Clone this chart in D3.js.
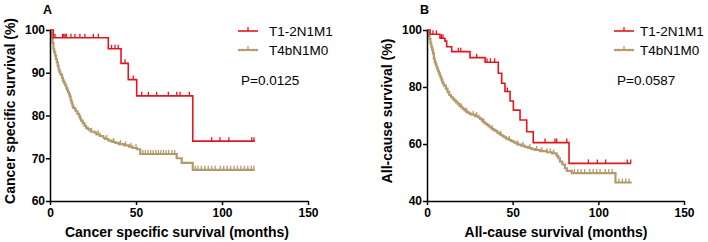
<!DOCTYPE html>
<html>
<head>
<meta charset="utf-8">
<script src="https://cdn.jsdelivr.net/npm/d3@7"></script>
<style>
	body { margin: 0; background: #fff; }
	svg { display: block; }
	.axis path, .axis line { stroke: #000; stroke-width: 1.5; }
	.axis text { font-family: "Liberation Sans", Arial, sans-serif; font-weight: bold; font-size: 12px; fill: #000; }
	.axisTitle { font-family: "Liberation Sans", Arial, sans-serif; font-weight: bold; font-size: 14px; fill: #000; }
	.panelLetter { font-family: "Liberation Sans", Arial, sans-serif; font-weight: bold; font-size: 12.5px; fill: #000; }
	.legendText { font-family: "Liberation Sans", Arial, sans-serif; font-size: 13.5px; fill: #000; }
</style>
</head>
<body>
<div id="chart"></div>
<script>
//Global variables
var width = 708;
var height = 242;
var redColor = "#e3161d";
var tanColor = "#b39b6b";

var seriesNames = ["T1-2N1M1", "T4bN1M0"];
var xTicks = [0, 50, 100, 150];
var yTicksA = [60, 70, 80, 90, 100];
var yTicksB = [40, 60, 80, 100];

//Panel A: cancer specific survival, [month, survival %] after each step
var redA = [[0,100],[1.9,98.2],[33.9,95.6],[41.3,92.2],[45.5,88.4],[50.4,84.6],[83.0,74.0],[119,74.0]];
var redCensorA = [2.9,7.3,8,8.7,9.5,12.2,14.5,17.4,20.3,25.2,28.1,35.8,37.8,39.7,43.6,48.4,53.3,57.2,62.0,68.8,73.7,75.6,81.0,94,98.8,104,117.3,118.6];
var tanA = [[0,100],[0.5,99.2],[1,98.2],[1.5,97],[2,95.5],[2.5,94.8],[3,94],[3.5,93.2],[4,92.5],[4.5,91.6],[5,90.8],[5.5,90.2],
	[6,89.6],[7,88.8],[7.5,88.2],[8,87.8],[8.5,87.4],[9,87],[9.5,86.4],[10,86],[10.5,85.5],[11,85],[11.5,84.4],[12,83.6],
	[12.5,83],[13,82.3],[13.5,81.8],[14.5,81.4],[15,81],[16,80.4],[17,79.8],[17.5,79.3],[18,78.8],[19,78.2],[20,77.6],
	[21,77.1],[22,76.8],[23,76.5],[24,76.2],[26,76.0],[27,75.6],[29,75.2],[31,74.8],[32,74.5],[34,74.1],[36,73.8],
	[38,73.6],[40,73.3],[43,73.0],[46,72.7],[48,72.4],[50.5,72.1],[52.5,71.0],[73.7,70.0],[76.6,68.9],[83,67.3],[119,67.3]];
var tanCensorA = [24,28,33,37,41,44,47,50,54,55.5,57,58.5,60,61.5,63,64.5,66,67.5,69,71,72.5,
	84.5,86,88,90,92,94,96,99,101,103,105,107,109,111,113,115,117,118.5];

//Panel B: all-cause survival
var redB = [[0,100],[1.8,98.5],[7.6,97.1],[10.5,96.1],[11.5,94.1],[14.4,92.4],[25.1,90.3],[33.9,88.7],[41.6,84.8],
	[43.6,81.3],[45.5,78.4],[48.5,75.1],[50.4,71.9],[54.3,68.4],[58.2,64.3],[62.0,60.5],[82.9,53.2],[119,53.2]];
var redCensorB = [3.5,5.5,8.5,9.3,18.3,19.7,29,35,37,39.5,46.9,68.9,74.7,75.7,81.6,94.2,99.4,104.3,116.9,118.9];
var tanB = [[0,100],[0.5,99],[1,98],[1.5,96.8],[2,95.3],[2.5,94.2],[3,93],[3.5,91.8],[4,90],[4.5,88.8],[5,88],[5.5,87.2],
	[6,86.3],[6.5,85.6],[7,84.8],[7.5,84],[8,83.2],[8.5,82.4],[9,81.6],[9.5,81],[10,80.5],[11,79.4],[12,78.2],[13,77.2],
	[14,76.5],[15,75.8],[16,75.2],[17,74.6],[18,74.0],[19,73.4],[20,72.8],[21,72.3],[22,71.8],[23,71.3],[24,70.9],
	[25,70.6],[26,70.3],[28,69.8],[30,69.3],[31,68.8],[32,68.2],[33,67.6],[34,67.1],[35,66.7],[36,66.2],[37,65.7],
	[38,65.2],[39,64.9],[40,64.5],[41,64.0],[42,63.6],[43,63.2],[44,62.8],[45,62.4],[46,62.0],[47,61.7],[48,61.4],
	[49,61.1],[50,60.8],[51,60.5],[52,60.2],[53,59.8],[55,59.4],[57,59.0],[59,58.6],[61,58.2],[63,57.9],[66,57.5],
	[70,57.1],[73,56.7],[75.7,55.8],[76.6,55.0],[77.6,53.8],[79,52.8],[80.5,51.5],[81.6,50.6],[84.5,49.8],[110,46.5],[119.5,46.5]];
var tanCensorB = [20,23,27,29,33,38,43,48,53,56,60,64,67,70,72,74,86,88,90,92,95,97,99,101,104,106,108,112,114,116,118];

//Survival value at time t for a step series
function survivalAt(series, t) {
	var s = series[0][1];
	for (var i = 0; i < series.length; i++) {
		if (series[i][0] <= t) s = series[i][1];
	}
	return s;
}

function drawPanel(svg, p) {
	var xScale = d3.scaleLinear()
	.domain([0, 150])
	.range([p.left, p.right]);

	var yScale = d3.scaleLinear()
	.domain(p.yDomain)
	.range([201, 30]);

	var line = d3.line()
	.x(function(d) { return xScale(d[0]); })
	.y(function(d) { return yScale(d[1]); })
	.curve(d3.curveStepAfter);

	var curves = [
		{data: p.tan, censor: p.tanCensor, color: tanColor, w: 2.2},
		{data: p.red, censor: p.redCensor, color: redColor, w: 1.6}
	];

	curves.forEach(function(c) {
		svg.append("path")
		.datum(c.data)
		.attr("d", line)
		.attr("fill", "none")
		.attr("stroke", c.color)
		.attr("stroke-width", c.w);

		//censor ticks
		svg.append("g").selectAll("line")
		.data(c.censor)
		.enter()
		.append("line")
		.attr("x1", function(d) { return xScale(d); })
		.attr("x2", function(d) { return xScale(d); })
		.attr("y1", function(d) { return yScale(survivalAt(c.data, d)); })
		.attr("y2", function(d) { return yScale(survivalAt(c.data, d)) - 4; })
		.attr("stroke", c.color)
		.attr("stroke-width", 1.3);
	});

	//Add X axis
	svg.append("g")
	.classed("axis", true)
	.attr("transform", "translate(0,201)")
	.call(d3.axisBottom(xScale).tickValues(xTicks).tickSize(4).tickSizeOuter(0).tickPadding(3));

	//Add Y axis
	svg.append("g")
	.classed("axis", true)
	.attr("transform", "translate(" + p.left + ",0)")
	.call(d3.axisLeft(yScale).tickValues(p.yTicks).tickSize(4).tickSizeOuter(0).tickPadding(1));

	//Axis titles
	svg.append("text")
	.classed("axisTitle", true)
	.attr("x", p.xTitleX)
	.attr("y", 237)
	.attr("text-anchor", "middle")
	.text(p.xTitle);

	svg.append("text")
	.classed("axisTitle", true)
	.attr("transform", "translate(" + p.yTitleX + ",111) rotate(-90)")
	.attr("text-anchor", "middle")
	.text(p.yTitle);

	//Panel letter
	svg.append("text")
	.classed("panelLetter", true)
	.attr("x", p.left - 7)
	.attr("y", 14)
	.text(p.letter);

	//Legend
	var legendY = [31, 50];
	var legendColors = [redColor, tanColor];
	seriesNames.forEach(function(name, i) {
		svg.append("line")
		.attr("x1", p.legendX).attr("x2", p.legendX + 20)
		.attr("y1", legendY[i]).attr("y2", legendY[i])
		.attr("stroke", legendColors[i])
		.attr("stroke-width", i == 0 ? 1.6 : 2.2);
		svg.append("line")
		.attr("x1", p.legendX + 10).attr("x2", p.legendX + 10)
		.attr("y1", legendY[i]).attr("y2", legendY[i] - 4)
		.attr("stroke", legendColors[i])
		.attr("stroke-width", 1.3);
		svg.append("text")
		.classed("legendText", true)
		.attr("x", p.legendX + p.textGap)
		.attr("y", legendY[i] + 5)
		.text(name);
	});

	svg.append("text")
	.classed("legendText", true)
	.attr("x", p.legendX + 3)
	.attr("y", 85)
	.text(p.pValue);
}

var svg = d3.select("#chart")
.append("svg")
.attr("width", width)
.attr("height", height);

drawPanel(svg, {
	left: 50, right: 308, yDomain: [60, 100], yTicks: yTicksA,
	red: redA, redCensor: redCensorA, tan: tanA, tanCensor: tanCensorA,
	xTitle: "Cancer specific survival (months)", xTitleX: 177,
	yTitle: "Cancer specific survival (%)", yTitleX: 15,
	letter: "A", legendX: 238, textGap: 31, pValue: "P=0.0125"
});

drawPanel(svg, {
	left: 427, right: 684, yDomain: [40, 100], yTicks: yTicksB,
	red: redB, redCensor: redCensorB, tan: tanB, tanCensor: tanCensorB,
	xTitle: "All-cause survival (months)", xTitleX: 556,
	yTitle: "All-cause survival (%)", yTitleX: 392,
	letter: "B", legendX: 614, textGap: 26, pValue: "P=0.0587"
});
</script>
</body>
</html>
